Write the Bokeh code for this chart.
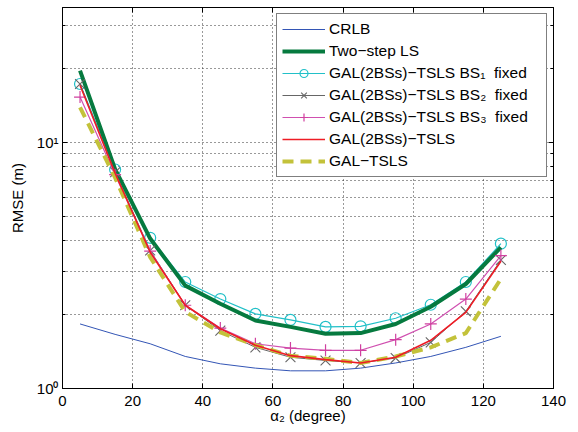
from bokeh.plotting import figure
from bokeh.models import (Range1d, FixedTicker, CustomJSTickFormatter, Legend, LegendItem,
                          LinearAxis, LogAxis)
from bokeh.embed import file_html
from bokeh.resources import INLINE

alpha2 = [5, 15, 25, 35, 45, 55, 65, 75, 85, 95, 105, 115, 125]
crlb = [1.83, 1.66, 1.52, 1.35, 1.26, 1.21, 1.18, 1.18, 1.21, 1.27, 1.35, 1.47, 1.63]
two_step = [19.6, 7.8, 4.07, 2.62, 2.21, 1.89, 1.78, 1.67, 1.68, 1.83, 2.15, 2.66, 3.75]
bs1 = [17.3, 7.77, 4.1, 2.71, 2.31, 2.01, 1.90, 1.78, 1.79, 1.93, 2.19, 2.71, 3.88]
bs2 = [17.3, 7.57, 3.64, 2.18, 1.72, 1.47, 1.34, 1.30, 1.27, 1.33, 1.54, 2.06, 3.33]
bs3 = [15.3, 7.4, 3.62, 2.18, 1.76, 1.52, 1.46, 1.43, 1.43, 1.58, 1.83, 2.31, 3.47]
gal2 = [17.1, 7.5, 3.58, 2.18, 1.75, 1.50, 1.36, 1.31, 1.27, 1.34, 1.57, 2.04, 3.29]
gal = [13.9, 7.2, 3.42, 2.05, 1.69, 1.50, 1.36, 1.32, 1.27, 1.35, 1.47, 1.68, 2.79]

labels = ["CRLB", "Two\u2212step LS",
          "GAL(2BSs)\u2212TSLS BS\u2081  fixed", "GAL(2BSs)\u2212TSLS BS\u2082  fixed",
          "GAL(2BSs)\u2212TSLS BS\u2083  fixed", "GAL(2BSs)\u2212TSLS", "GAL\u2212TSLS"]
x_ticks = [0, 20, 40, 60, 80, 100, 120, 140]
y_major = [1, 10]
y_minor = [2, 3, 4, 5, 6, 7, 8, 9, 20, 30]

FONT = "Liberation Sans"

p = figure(width=570, height=428, y_axis_type="log", output_backend="svg",
           toolbar_location=None, x_range=Range1d(0, 140), y_range=Range1d(1, 35.4),
           min_border_left=62, min_border_right=17, min_border_top=7, min_border_bottom=40)
p.background_fill_color = "white"
p.border_fill_color = "white"
p.outline_line_color = "black"
p.outline_line_width = 1

xt = FixedTicker(ticks=x_ticks)
yt = FixedTicker(ticks=y_major, minor_ticks=y_minor)
fmt = CustomJSTickFormatter(code="""
  if (Math.abs(tick - 1) < 1e-9) return "10\u2070";
  if (Math.abs(tick - 10) < 1e-9) return "10\u00b9";
  return "";
""")
blank = CustomJSTickFormatter(code="return '';")

for ax in p.xaxis:
    ax.ticker = xt
for ax in p.yaxis:
    ax.ticker = yt
    ax.formatter = fmt

for ax in list(p.xaxis) + list(p.yaxis):
    ax.major_tick_in = 5
    ax.major_tick_out = 0
    ax.minor_tick_in = 3
    ax.minor_tick_out = 0
    ax.major_label_text_font = FONT
    ax.major_label_text_font_size = "15px"
    ax.major_label_text_color = "black"
    ax.axis_label_text_font = FONT
    ax.axis_label_text_font_size = "15px"
    ax.axis_label_text_font_style = "normal"
    ax.axis_label_text_color = "black"
    ax.axis_line_color = "black"
    ax.major_tick_line_color = "black"
    ax.minor_tick_line_color = "black"
p.xaxis.axis_label = "\u03b1\u2082 (degree)"
p.yaxis.axis_label = "RMSE (m)"
p.xaxis.major_label_standoff = 7
p.xaxis.axis_label_standoff = -2
p.yaxis.major_label_standoff = 4
p.yaxis.axis_label_standoff = 8

top = LinearAxis(ticker=xt, formatter=blank, major_tick_in=5, major_tick_out=0,
                 minor_tick_line_color=None, major_label_standoff=0, axis_line_color="black")
right = LogAxis(ticker=yt, formatter=blank, major_tick_in=5, major_tick_out=0,
                minor_tick_in=3, minor_tick_out=0, major_label_standoff=0, axis_line_color="black")
p.add_layout(top, "above")
p.add_layout(right, "right")

for g in (p.xgrid, p.ygrid):
    g.grid_line_color = "#333333"
    g.grid_line_dash = "1 3"
    g.grid_line_width = 1
p.xgrid.ticker = xt
p.ygrid.ticker = yt
p.ygrid.minor_grid_line_color = "#333333"
p.ygrid.minor_grid_line_dash = "1 3"

r_crlb = p.line(alpha2, crlb, line_color="#3355b5", line_width=1)
r_bs1l = p.line(alpha2, bs1, line_color="#22c0c8", line_width=1.2)
r_bs1m = p.scatter(alpha2, bs1, marker="circle", size=11, fill_color=None, line_color="#22c0c8", line_width=1.2)
r_two = p.line(alpha2, two_step, line_color="#067a3f", line_width=4)
r_bs2l = p.line(alpha2, bs2, line_color="#666666", line_width=1)
r_bs2m = p.scatter(alpha2, bs2, marker="x", size=14, line_color="#666666", line_width=1.1)
r_bs3l = p.line(alpha2, bs3, line_color="#d050b0", line_width=1.2)
r_bs3m = p.scatter(alpha2, bs3, marker="cross", size=12, line_color="#d040a0", line_width=1.2)
r_gal = p.line(alpha2, gal, line_color="#c3c23a", line_width=4, line_dash="11 7")
r_gal2 = p.line(alpha2, gal2, line_color="#ee1c25", line_width=1.6)

legend = Legend(items=[
    LegendItem(label=labels[0], renderers=[r_crlb]),
    LegendItem(label=labels[1], renderers=[r_two]),
    LegendItem(label=labels[2], renderers=[r_bs1l, r_bs1m]),
    LegendItem(label=labels[3], renderers=[r_bs2l, r_bs2m]),
    LegendItem(label=labels[4], renderers=[r_bs3l, r_bs3m]),
    LegendItem(label=labels[5], renderers=[r_gal2]),
    LegendItem(label=labels[6], renderers=[r_gal]),
], location="top_right")
legend.label_text_font = FONT
legend.label_text_font_size = "15.5px"
legend.label_text_color = "black"
legend.label_height = 20
legend.glyph_height = 20
legend.glyph_width = 43
legend.label_standoff = 4
legend.label_width = 212
legend.spacing = 2
legend.padding = 5
legend.margin = 6
legend.border_line_color = "black"
legend.border_line_width = 1
legend.background_fill_color = "white"
legend.background_fill_alpha = 1
p.add_layout(legend)

open("out.html", "w").write(file_html(p, INLINE))
